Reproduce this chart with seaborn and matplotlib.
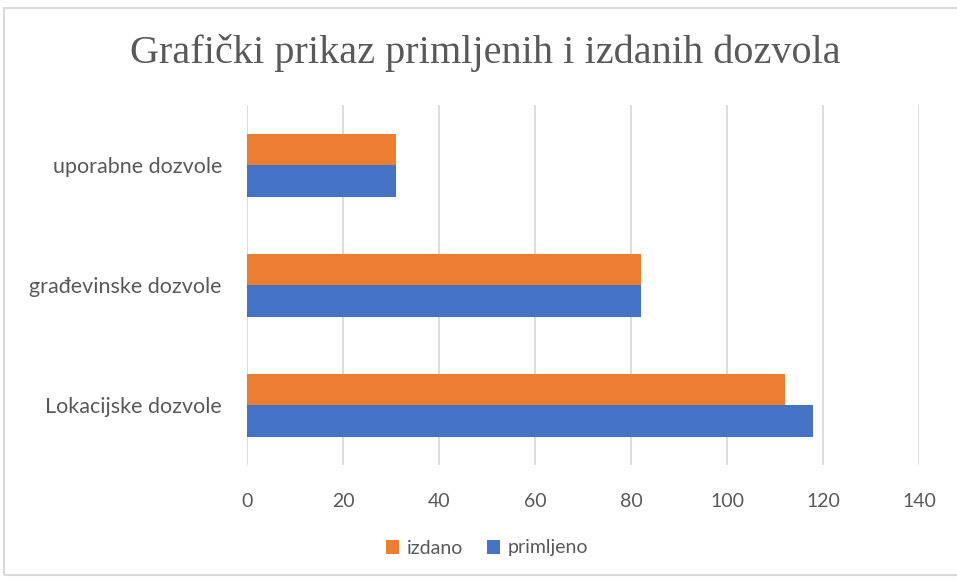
import matplotlib
matplotlib.use("Agg")
import matplotlib.pyplot as plt
import seaborn as sns
import pandas as pd
from matplotlib.patches import Rectangle, Patch

categories = ["uporabne dozvole", "građevinske dozvole", "Lokacijske dozvole"]
izdano = [31, 82, 112]
primljeno = [31, 82, 118]
series_names = ["izdano", "primljeno"]
xticks = [0, 20, 40, 60, 80, 100, 120, 140]

rows = []
for c, v in zip(categories, izdano):
    rows.append({"kategorija": c, "serija": "izdano", "vrijednost": v})
for c, v in zip(categories, primljeno):
    rows.append({"kategorija": c, "serija": "primljeno", "vrijednost": v})
df = pd.DataFrame(rows)

sns.set_theme(style="white")
plt.rcParams["font.family"] = ["Lato", "DejaVu Sans"]

colors = {"izdano": "#ED7D31", "primljeno": "#4472C4"}
grey = "#595959"

fig = plt.figure(figsize=(9.57, 5.81), dpi=100)
ax = fig.add_axes([247/957, 1-465/581, (919-247)/957, (465-105)/581])

sns.barplot(data=df, y="kategorija", x="vrijednost", hue="serija",
            order=categories, hue_order=series_names, palette=colors,
            orient="h", width=0.525, gap=0, ax=ax, legend=False,
            saturation=1, errorbar=None, linewidth=0)

ax.set_xlim(0, 140)
ax.set_xticks(xticks)
ax.set_xticklabels([str(t) for t in xticks])
ax.grid(axis="x", color="#D9D9D9", linewidth=1.3)
ax.set_axisbelow(True)
for s in ax.spines.values():
    s.set_visible(False)
ax.set_xlabel("")
ax.set_ylabel("")
ax.tick_params(axis="x", length=0, pad=20, labelsize=14, labelcolor=grey)
ax.tick_params(axis="y", length=0, pad=18, labelsize=15.5, labelcolor=grey)

fig.text(485/957, 1-53/581, "Grafički prikaz primljenih i izdanih dozvola",
         ha="center", va="center", fontsize=29, color=grey,
         family=["Liberation Serif", "DejaVu Serif"])

handles = [Patch(facecolor=colors[n], edgecolor="none") for n in series_names]
fig.legend(handles, series_names, loc="center", bbox_to_anchor=(487/957, 1-548/581),
           ncol=2, frameon=False, fontsize=14, labelcolor=grey,
           handlelength=0.7, handleheight=0.7, handletextpad=0.4, columnspacing=1.2)

fig.patches.append(Rectangle((4/957, 1-575/581), 1.0, (575-8)/581,
                             transform=fig.transFigure, fill=False,
                             edgecolor="#D9D9D9", linewidth=1.5))

fig.savefig("out.png", dpi=100)
